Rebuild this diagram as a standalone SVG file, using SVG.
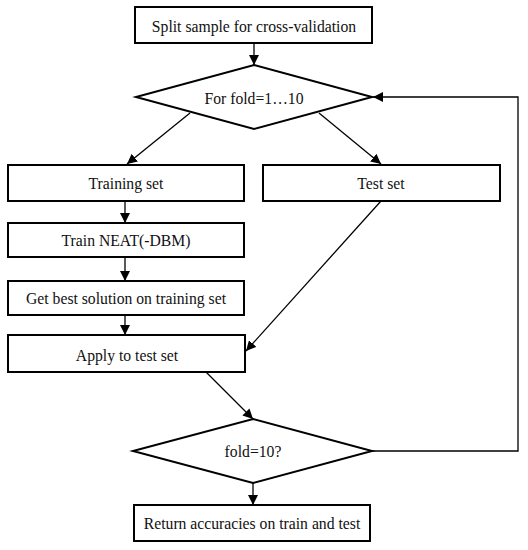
<svg xmlns="http://www.w3.org/2000/svg" width="528" height="550" viewBox="0 0 528 550">
<style>
.box{fill:#fff;stroke:#000;stroke-width:2}
.t{font-family:"Liberation Serif","Times New Roman",serif;font-size:15.7px;fill:#111;text-anchor:middle;dominant-baseline:central}
.c{fill:none;stroke:#000;stroke-width:1.3}
</style>
<defs>
<marker id="ah" markerWidth="10" markerHeight="10" viewBox="0 0 10 10" refX="10" refY="5" orient="auto" markerUnits="userSpaceOnUse">
<path d="M0,0 L10,5 L0,10 z" fill="#000"/>
</marker>
</defs>
<rect width="528" height="550" fill="#fff"/>
<g id="connectors">
<line class="c" x1="254" y1="43" x2="254" y2="65" marker-end="url(#ah)"/>
<line class="c" x1="190" y1="113" x2="127" y2="164" marker-end="url(#ah)"/>
<line class="c" x1="319" y1="113" x2="381" y2="164" marker-end="url(#ah)"/>
<line class="c" x1="125" y1="201" x2="125" y2="223" marker-end="url(#ah)"/>
<line class="c" x1="125" y1="257" x2="125" y2="281" marker-end="url(#ah)"/>
<line class="c" x1="125" y1="315" x2="125" y2="335" marker-end="url(#ah)"/>
<line class="c" x1="381" y1="201" x2="246" y2="351" marker-end="url(#ah)"/>
<line class="c" x1="206" y1="372" x2="253" y2="419" marker-end="url(#ah)"/>
<line class="c" x1="253" y1="483" x2="253" y2="505" marker-end="url(#ah)"/>
<polyline class="c" points="372,451 518,451 518,97 373,97" marker-end="url(#ah)"/>
</g>
<g id="split"><rect class="box" x="135" y="7" width="237" height="36"/><text class="t" x="254" y="26">Split sample for cross-validation</text></g>
<g id="forfold"><polygon class="box" points="254,65 372,97 254,129 136,97"/><text class="t" x="254" y="98">For fold=1…10</text></g>
<g id="training"><rect class="box" x="8" y="165" width="236" height="36"/><text class="t" x="126" y="183">Training set</text></g>
<g id="test"><rect class="box" x="263" y="165" width="237" height="36"/><text class="t" x="381" y="183">Test set</text></g>
<g id="train"><rect class="box" x="8" y="223" width="236" height="34"/><text class="t" x="126" y="240">Train NEAT(-DBM)</text></g>
<g id="best"><rect class="box" x="8" y="281" width="236" height="34"/><text class="t" x="126" y="298">Get best solution on training set</text></g>
<g id="apply"><rect class="box" x="8" y="335" width="237" height="37"/><text class="t" x="127" y="355">Apply to test set</text></g>
<g id="fold10"><polygon class="box" points="253,419 372,451 253,483 133,451"/><text class="t" x="253" y="451">fold=10?</text></g>
<g id="return"><rect class="box" x="134" y="505" width="236" height="36"/><text class="t" x="252" y="523">Return accuracies on train and test</text></g>
</svg>
